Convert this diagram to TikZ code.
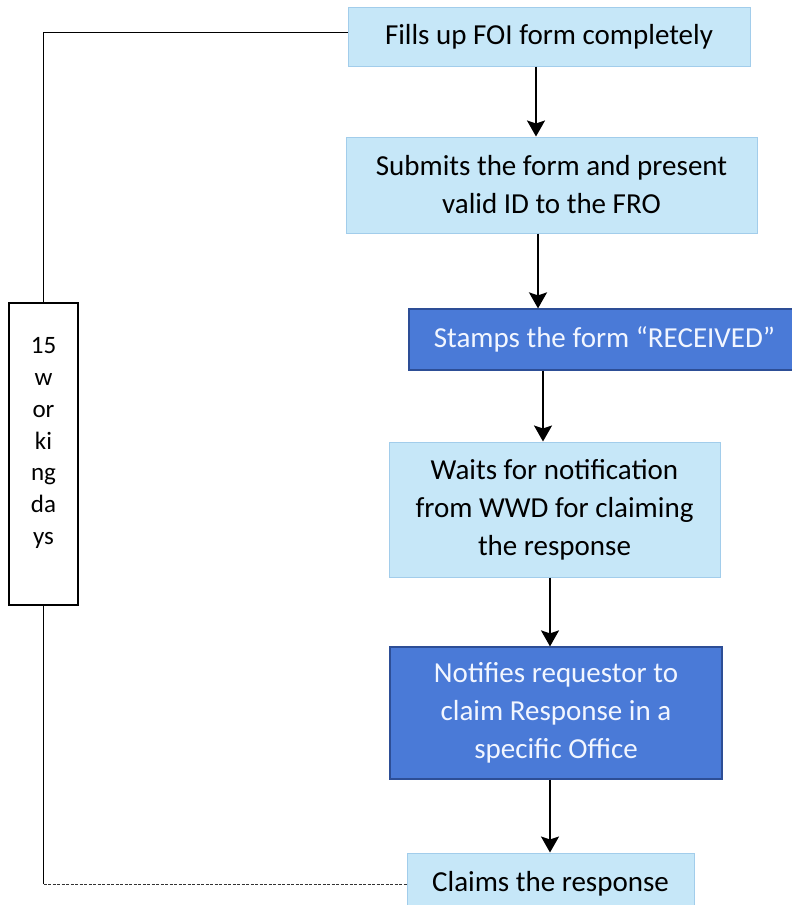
\documentclass[tikz,border=0pt]{standalone}
\usepackage{fontspec}
\setmainfont{Carlito}
\usetikzlibrary{arrows.meta,calc}
\definecolor{lightfill}{HTML}{C6E7F8}
\definecolor{lightedge}{HTML}{A2CDEB}
\definecolor{darkfill}{HTML}{4A7AD7}
\definecolor{darkedge}{HTML}{2D4E96}
\definecolor{darktext}{HTML}{F2F6FF}
\tikzset{
  lightbox/.style={draw=lightedge, fill=lightfill, line width=1pt, inner sep=0pt, align=center,
    font=\fontsize{29}{38}\selectfont, text=black},
  darkbox/.style={draw=darkedge, fill=darkfill, line width=1.2pt, inner sep=0pt, align=center,
    font=\fontsize{29}{38}\selectfont, text=darktext},
  arr/.style={line width=2pt, -{Stealth[length=16pt,width=18pt,inset=3pt]}},
  conn/.style={line width=1pt, black},
  sidebox/.style={draw=black, line width=1.8pt, fill=white, inner sep=0pt},
  sidetext/.style={align=center, font=\fontsize{25}{31.7}\selectfont, inner sep=0pt}
}
\begin{document}
\begin{tikzpicture}[x=1pt,y=-1pt]
\useasboundingbox (0,0) rectangle (792,905);
\fill[white] (0,0) rectangle (792,905);

\node[lightbox, minimum width=402pt, minimum height=59pt] (b1) at (549,36.5) {Fills up FOI form completely};
\node[lightbox, minimum width=411pt, minimum height=96pt] (b2) at (551.5,185) {Submits the form and present\\valid ID to the FRO};
\node[darkbox, minimum width=391pt, minimum height=61pt] (b3) at (604.5,339.5) {Stamps the form “RECEIVED”};
\node[lightbox, minimum width=331pt, minimum height=135pt] (b4) at (554.5,509.5) {Waits for notification\\from WWD for claiming\\the response};
\node[darkbox, minimum width=332pt, minimum height=132pt] (b5) at (556,713) {Notifies requestor to\\claim Response in a\\specific Office};
\node[lightbox, minimum width=287pt, minimum height=62pt] (b6) at (550.5,884) {Claims the response};

\node[sidebox, minimum width=69pt, minimum height=302pt] (lb) at (43.5,454) {};
\node[sidetext] (lt) at (43.5,443) {15\\w\\or\\ki\\ng\\da\\ys};

\draw[arr] ([xshift=-13pt]b1.south) -- ([xshift=-13pt]b1.south |- b2.north);
\draw[arr] ([xshift=-13.5pt]b2.south) -- ([xshift=-13.5pt]b2.south |- b3.north);
\draw[arr] ([xshift=-61.5pt]b3.south) -- ([xshift=-61.5pt]b3.south |- b4.north);
\draw[arr] ([xshift=-4.5pt]b4.south) -- ([xshift=-4.5pt]b4.south |- b5.north);
\draw[arr] ([xshift=-6pt]b5.south) -- ([xshift=-6pt]b5.south |- b6.north);

\draw[conn] ([yshift=4.5pt]b1.west) -| (lb.north);
\coordinate (corner) at (lb.south |- b6.west);
\draw[conn] (lb.south) -- (corner);
\draw[conn, dash pattern=on 3pt off 1.5pt, black!80] (corner) -- (b6.west);
\end{tikzpicture}
\end{document}
